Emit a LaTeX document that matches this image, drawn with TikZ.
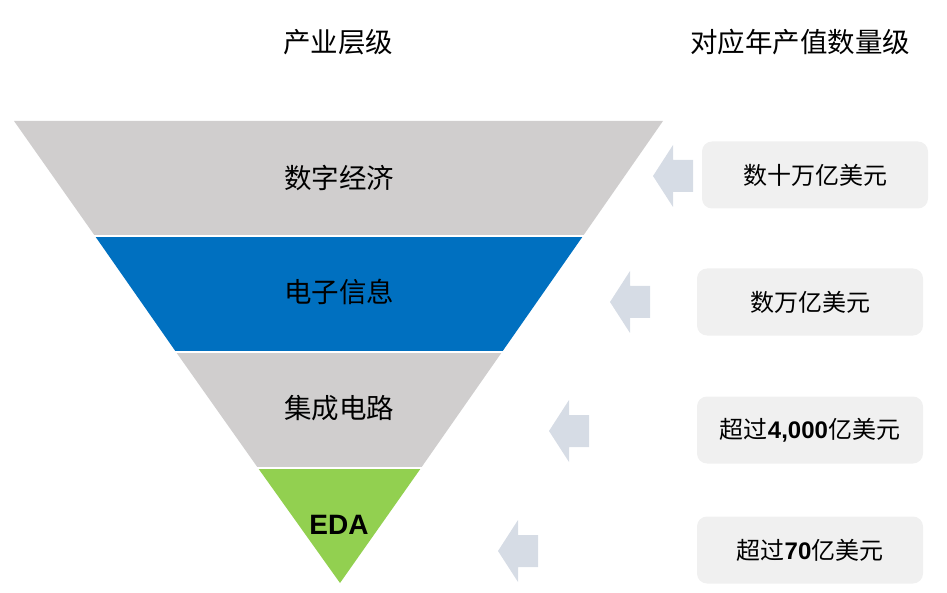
\documentclass[tikz,border=0pt]{standalone}
\usepackage{fontspec}
\setmainfont{Noto Sans CJK SC}
\newfontfamily\latin{Liberation Sans}
\usepackage{xcolor}
\usepackage{tikz}
\usetikzlibrary{positioning}

\definecolor{bandgray}{HTML}{D0CECE}
\definecolor{bandblue}{HTML}{0070C0}
\definecolor{bandgreen}{HTML}{92D050}
\definecolor{arrowgray}{HTML}{D6DCE5}
\definecolor{boxgray}{HTML}{F0F0F0}

\begin{document}
\begin{tikzpicture}[x=1pt,y=-1pt,
  head/.style={font=\fontsize{27.5}{32}\selectfont},
  layer/.style={font=\fontsize{27.5}{32}\selectfont},
  value/.style={fill=boxgray,rounded corners=10pt,minimum width=226pt,minimum height=67pt,
                font=\fontsize{24}{28}\selectfont},
  pointer/.style={fill=arrowgray}]
\useasboundingbox (0,0) rectangle (947,593);

% layers of the funnel
\fill[bandgray]  (14,121) -- (663,121) -- (583,236) -- (95,236) -- cycle;
\fill[bandblue]  (95,236) -- (583,236) -- (502,352) -- (176,352) -- cycle;
\fill[bandgray]  (176,352) -- (502,352) -- (421,468) -- (258,468) -- cycle;
\fill[bandgreen] (258,468) -- (421,468) -- (340,583) -- cycle;
\draw[white,line width=2pt] (90,236) -- (590,236) (170,352) -- (510,352) (250,468) -- (430,468);

\node[head] (lvl) at (338,42) {产业层级};
\node[head] (val) at (800,42) {对应年产值数量级};

\node[layer] (L1) at (339,178) {数字经济};
\node[layer] (L2) at (339,292) {电子信息};
\node[layer] (L3) at (339,408) {集成电路};
\node[layer,font=\latin\bfseries\fontsize{28}{32}\selectfont] (L4) at (339,525) {EDA};

\node[value] (V1) at (815,175) {数十万亿美元};
\node[value] (V2) at (810,302) {数万亿美元};
\node[value] (V3) at (810,430) {超过{\latin\bfseries 4,000}亿美元};
\node[value] (V4) at (810,550) {超过{\latin\bfseries 70}亿美元};

% arrows towards the funnel
\foreach \tx/\ty in {653/176, 610/302, 549/431, 498/551}
  \fill[pointer] (\tx,\ty) -- ++(20,-31) -- ++(0,15) -- ++(20,0) -- ++(0,32)
                 -- ++(-20,0) -- ++(0,15) -- cycle;

\end{tikzpicture}
\end{document}
